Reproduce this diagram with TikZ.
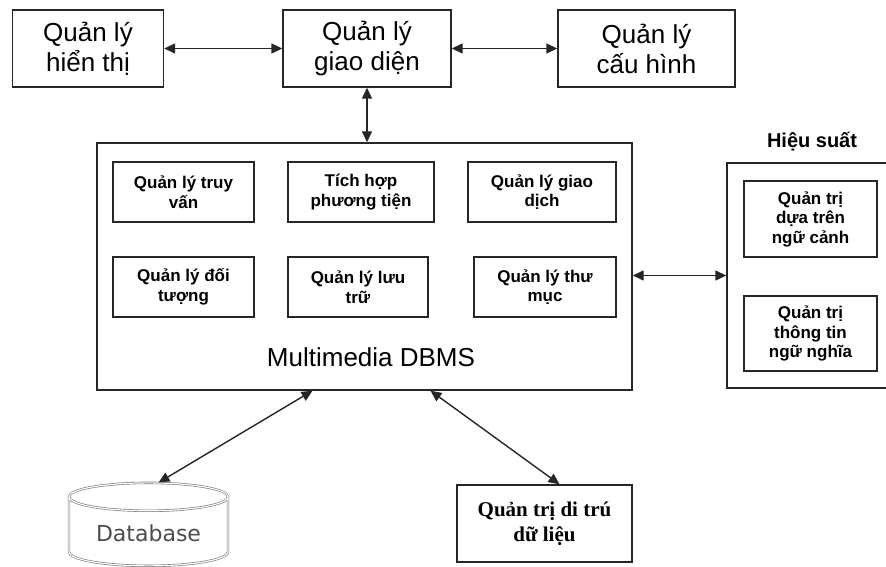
\documentclass[tikz,border=0pt]{standalone}
\usepackage{fontspec}
\setmainfont{Liberation Sans}
\newfontfamily\dbfont{DejaVu Sans}
\newfontfamily\timesfont{Liberation Serif}
\usetikzlibrary{arrows.meta,shapes.geometric,calc}

\begin{document}
\begin{tikzpicture}[x=1pt,y=-1pt,
    box/.style={draw=black!85,line width=1.4pt,align=center,inner sep=0pt},
    bigbox/.style={box,font=\fontsize{26}{30}\selectfont},
    smallbox/.style={box,font=\bfseries\fontsize{17}{19.5}\selectfont},
    link/.style={{Triangle[length=11pt,width=10pt]}-{Triangle[length=11pt,width=10pt]},
      line width=1.4pt,black!85}]
        \useasboundingbox (0,0) rectangle (886,567) ;
        % top row
        \node[bigbox,minimum width=151pt,minimum height=77pt] (hienthi) at (88,48.5) {Quản lý\\hiển thị} ;
        \node[bigbox,minimum width=168pt,minimum height=77pt] (giaodien) at (367,48.5) {Quản lý\\giao diện} ;
        \node[bigbox,minimum width=177pt,minimum height=77pt] (cauhinh) at (646.5,48.5) {Quản lý\\cấu hình} ;
        % multimedia dbms
        \node[box,minimum width=535pt,minimum height=247pt] (dbms) at (364.5,266.5) {} ;
        \node[font=\fontsize{26}{30}\selectfont] (dbmsname) at (371,357) {Multimedia DBMS} ;
        \node[smallbox,minimum width=141pt,minimum height=60pt] (truyvan) at (183.5,192) {Quản lý truy\\vấn} ;
        \node[smallbox,minimum width=146pt,minimum height=60pt] (tichhop) at (361,192) {Tích hợp\\phương tiện} ;
        \node[smallbox,minimum width=148pt,minimum height=60pt] (giaodich) at (542,192) {Quản lý giao\\dịch} ;
        \node[smallbox,minimum width=141pt,minimum height=60pt] (doituong) at (183.5,287) {Quản lý đối\\tượng} ;
        \node[smallbox,minimum width=140pt,minimum height=60pt] (luutru) at (358,287) {Quản lý lưu\\trữ} ;
        \node[smallbox,minimum width=142pt,minimum height=60pt] (thumuc) at (545,287) {Quản lý thư\\mục} ;
        % hieu suat
        \node[font=\bfseries\fontsize{20}{24}\selectfont] (hieusuat) at (812,142) {Hiệu suất} ;
        \node[box,minimum width=173pt,minimum height=225pt] (panel) at (813.5,275.5) {} ;
        \node[smallbox,minimum width=133pt,minimum height=76pt] (ngucanh) at (810.5,219) {Quản trị\\dựa trên\\ngữ cảnh} ;
        \node[smallbox,minimum width=133pt,minimum height=75pt] (ngunghia) at (810.5,333.5) {Quản trị\\thông tin\\ngữ nghĩa} ;
        % bottom
        \node[cylinder,shape border rotate=90,aspect=0.25,draw=black!55,double=white,
          double distance=1.2pt,line width=0.6pt,minimum width=159pt,minimum height=83pt,
          font=\dbfont\fontsize{22}{26}\selectfont,text=black!70] (database) at (148.5,533.5) {Database} ;
        \node[box,minimum width=175pt,minimum height=77pt,
          font=\timesfont\bfseries\fontsize{21}{25}\selectfont] (ditru) at (544.5,523.5) {Quản trị di trú\\dữ liệu} ;
        % arrows
        \draw[link] (hienthi.east) -- (giaodien.west) ;
        \draw[link] (giaodien.east) -- (cauhinh.west) ;
        \draw[link] (giaodien.south) -- (giaodien.south |- dbms.north) ;
        \draw[link] (dbms.east |- panel.west) -- (panel.west) ;
        \draw[link] ($(dbms.south)+(-52,0)$) -- ($(database.top)+(10,0)$) ;
        \draw[link] ($(dbms.south)+(66,0)$) -- ($(ditru.north)+(15,0)$) ;
      \end{tikzpicture}
\end{document}
